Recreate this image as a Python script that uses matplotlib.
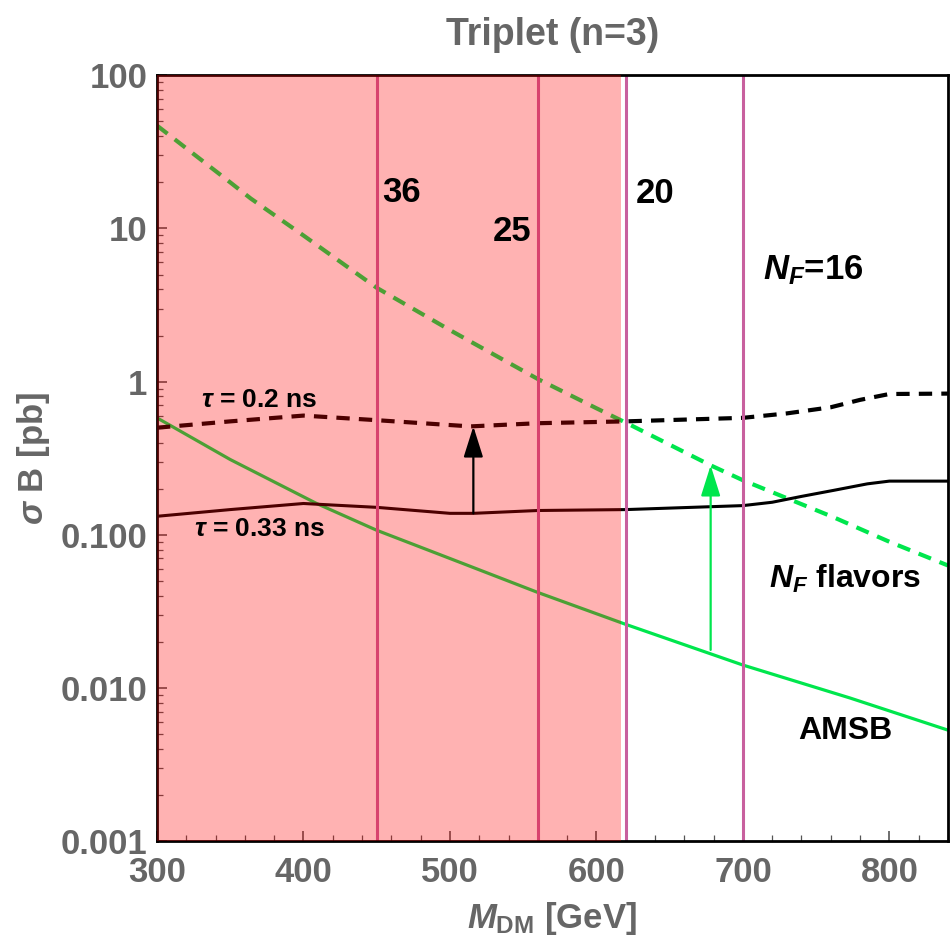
import numpy as np
import matplotlib.pyplot as plt

plt.rcParams['font.family'] = 'Liberation Sans'
plt.rcParams['font.weight'] = 'bold'
plt.rcParams['mathtext.fontset'] = 'custom'
plt.rcParams['mathtext.rm'] = 'Liberation Sans:bold'
plt.rcParams['mathtext.it'] = 'Liberation Sans:bold:italic'
plt.rcParams['mathtext.bf'] = 'Liberation Sans:bold'

# N_F flavors (dashed green)
m_flav = [300, 350, 364, 400, 450, 480, 500, 560, 600, 620, 678, 700, 762, 800, 840]
s_flav = [47, 20, 15.7, 9.0, 4.1, 2.8, 2.17, 1.04, 0.67, 0.54, 0.284, 0.227, 0.13, 0.09, 0.063]

# AMSB (solid green)
m_amsb = [300, 350, 409, 450, 500, 560, 620, 700, 773, 840]
s_amsb = [0.58, 0.31, 0.16, 0.107, 0.070, 0.042, 0.026, 0.0141, 0.0086, 0.0053]

# tau = 0.2 ns (dashed black)
m_t02 = [300, 350, 400, 450, 514, 560, 620, 700, 730, 760, 780, 800, 840]
s_t02 = [0.50, 0.55, 0.60, 0.56, 0.51, 0.535, 0.55, 0.58, 0.62, 0.68, 0.76, 0.83, 0.835]

# tau = 0.33 ns (solid black)
m_t033 = [300, 350, 400, 450, 500, 516, 560, 620, 700, 720, 740, 762, 785, 800, 840]
s_t033 = [0.132, 0.146, 0.16, 0.151, 0.138, 0.138, 0.144, 0.146, 0.155, 0.163, 0.178, 0.195, 0.215, 0.224, 0.224]

nf_lines = [450, 560, 620, 700]
excluded_max = 617

fig = plt.figure(figsize=(9.53, 9.50), dpi=100)
ax = fig.add_axes([0.1647, 0.1147, 0.830, 0.806])

gray = '#666666'
purple = '#c8609e'
green = '#00e64d'

ax.plot(m_flav, s_flav, color=green, lw=3.0, dashes=(3.2, 2.2))
ax.plot(m_amsb, s_amsb, color=green, lw=2.3)
ax.plot(m_t02, s_t02, color='black', lw=3.0, dashes=(3.2, 2.2))
ax.plot(m_t033, s_t033, color='black', lw=2.2)
for xv in nf_lines:
    ax.axvline(xv, color=purple, lw=2.2)

# excluded region drawn over the curves, like the original
ax.axvspan(300, excluded_max, color='red', alpha=0.3, lw=0, zorder=5)

# arrows
arr = dict(arrowstyle='-|>,head_length=19,head_width=6', lw=1.6, shrinkA=0, shrinkB=0, mutation_scale=1)
ax.annotate('', xy=(516, 0.51), xytext=(516, 0.138),
            arrowprops=dict(arr, color='black'), zorder=6)
ax.annotate('', xy=(678, 0.284), xytext=(678, 0.0177),
            arrowprops=dict(arr, color=green), zorder=6)

ax.set_yscale('log')
ax.set_xlim(300, 840)
ax.set_ylim(0.001, 100)
ax.set_xticks([300, 400, 500, 600, 700, 800])
ax.set_xticks(np.arange(300, 841, 20), minor=True)
ax.set_yticks([100, 10, 1, 0.1, 0.01, 0.001])
ax.set_yticklabels(['100', '10', '1', '0.100', '0.010', '0.001'])
ax.tick_params(axis='both', which='both', direction='in', labelsize=25, labelcolor=gray,
               top=False, right=False, color='#555555')
ax.tick_params(which='major', length=7, width=1.2)
ax.tick_params(which='minor', length=4, width=0.9)
ax.tick_params(axis='x', pad=11)
ax.tick_params(axis='y', pad=7)
for sp in ax.spines.values():
    sp.set_linewidth(2)

ax.set_xlabel('$M_{\\rm DM}$ [GeV]', fontsize=25, color=gray, fontweight='bold', labelpad=8)
ax.set_ylabel('$\\sigma$ B [pb]', fontsize=25, color=gray, fontweight='bold', labelpad=6)
ax.set_title('Triplet (n=3)', fontsize=27, color=gray, fontweight='bold', pad=22)

txt = dict(fontsize=25, color='black', fontweight='bold', ha='center', zorder=7)
ax.text(467, 14.9, '36', **txt)
ax.text(542.5, 8.3, '25', **txt)
ax.text(640, 14.7, '20', **txt)
ax.text(748, 4.63, '$N_F$=16', **txt)
ax.text(770, 0.0448, '$N_F$ flavors', **dict(txt, fontsize=23))
ax.text(770, 0.00467, 'AMSB', **dict(txt, fontsize=23))
ax.text(370, 0.681, '$\\tau$ = 0.2 ns', **dict(txt, fontsize=19))
ax.text(370, 0.098, '$\\tau$ = 0.33 ns', **dict(txt, fontsize=19))

fig.savefig('out.png', dpi=100)
